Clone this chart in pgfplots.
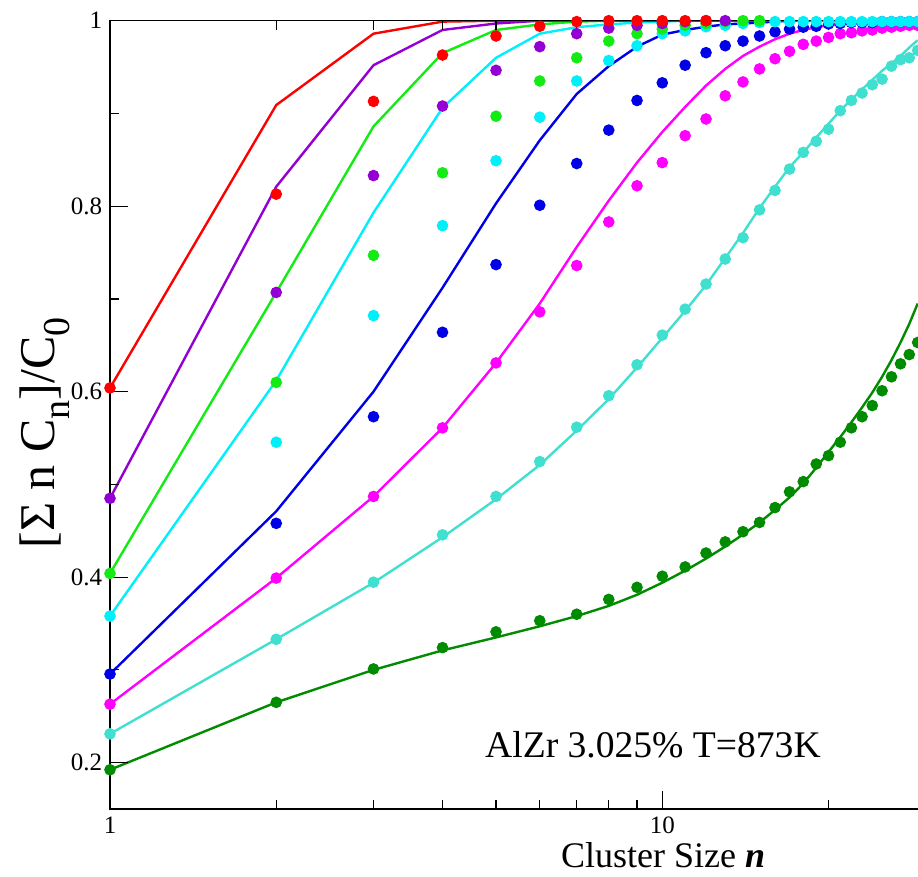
\documentclass[border=0pt]{standalone}
\usepackage{pgfplots}
\pgfplotsset{compat=1.18}
\usepackage{fontspec}
\setmainfont{Liberation Serif}
\definecolor{gRed}{RGB}{255,0,0}
\definecolor{gViolet}{RGB}{148,0,211}
\definecolor{gGreen}{RGB}{20,235,20}
\definecolor{gCyan}{RGB}{0,240,250}
\definecolor{gBlue}{RGB}{0,0,230}
\definecolor{gMagenta}{RGB}{255,0,255}
\definecolor{gTurq}{RGB}{64,224,208}
\definecolor{gGreenFour}{RGB}{0,139,0}

\pgfplotstableread{
n v
1 0.604
2 0.909
3 0.986
4 0.999
5 1.0
29 1.0
}\redline
\pgfplotstableread{
n v
1 0.604
2 0.813
3 0.913
4 0.963
5 0.9835
6 0.994
7 0.999
8 1.0
9 1.0
10 1.0
11 1.0
12 1.0
}\reddots
\pgfplotstableread{
n v
1 0.485
2 0.821
3 0.952
4 0.990
5 0.997
6 1.0
29 1.0
}\violetline
\pgfplotstableread{
n v
1 0.485
2 0.707
3 0.833
4 0.908
5 0.9465
6 0.972
7 0.986
8 0.992
9 0.995
10 0.997
11 0.999
12 1.0
13 1.0
}\violetdots
\pgfplotstableread{
n v
1 0.404
2 0.707
3 0.886
4 0.965
5 0.990
6 0.996
7 0.999
8 1.0
29 1.0
}\greenline
\pgfplotstableread{
n v
1 0.404
2 0.610
3 0.747
4 0.836
5 0.897
6 0.935
7 0.960
8 0.978
9 0.986
10 0.991
11 0.995
12 0.997
13 0.999
14 1.0
15 1.0
}\greendots
\pgfplotstableread{
n v
1 0.358
2 0.612
3 0.793
4 0.906
5 0.960
6 0.986
7 0.993
8 0.996
9 0.998
10 0.999
11 1.0
29 1.0
}\cyanline
\pgfplotstableread{
n v
1 0.358
2 0.5455
3 0.682
4 0.779
5 0.849
6 0.896
7 0.935
8 0.957
9 0.973
10 0.986
11 0.989
12 0.9935
13 0.995
14 0.997
15 0.998
16 0.999
17 0.999
18 0.999
19 0.999
20 0.999
21 0.999
22 0.999
23 0.999
24 0.999
25 0.999
26 0.999
27 0.999
28 0.999
29 0.999
}\cyandots
\pgfplotstableread{
n v
1 0.2955
2 0.471
3 0.600
4 0.712
5 0.803
6 0.871
7 0.921
8 0.951
9 0.972
10 0.985
11 0.990
12 0.9935
13 0.996
14 0.997
15 0.998
16 0.999
17 1.0
29 1.0
}\blueline
\pgfplotstableread{
n v
1 0.2955
2 0.458
3 0.573
4 0.664
5 0.737
6 0.801
7 0.846
8 0.882
9 0.914
10 0.933
11 0.952
12 0.9655
13 0.973
14 0.978
15 0.9835
16 0.988
17 0.991
18 0.993
19 0.994
20 0.9965
21 0.997
22 0.998
23 0.998
24 0.998
25 0.999
26 0.999
27 0.999
28 0.999
29 0.999
}\bluedots
\pgfplotstableread{
n v
1 0.263
2 0.399
3 0.487
4 0.561
5 0.631
6 0.695
7 0.756
8 0.806
9 0.847
10 0.880
11 0.907
12 0.930
13 0.948
14 0.962
15 0.972
16 0.980
17 0.986
18 0.990
19 0.993
20 0.995
21 0.996
22 0.997
23 0.998
24 0.998
25 0.999
26 0.999
27 0.999
28 0.999
29 0.999
}\magentaline
\pgfplotstableread{
n v
1 0.263
2 0.399
3 0.487
4 0.561
5 0.631
6 0.686
7 0.736
8 0.783
9 0.822
10 0.847
11 0.876
12 0.894
13 0.919
14 0.934
15 0.948
16 0.959
17 0.967
18 0.9745
19 0.978
20 0.982
21 0.986
22 0.987
23 0.989
24 0.990
25 0.992
26 0.993
27 0.994
28 0.995
29 0.995
}\magentadots
\pgfplotstableread{
n v
1 0.231
2 0.333
3 0.394
4 0.443
5 0.484
6 0.521
7 0.558
8 0.592
9 0.626
10 0.658
11 0.687
12 0.715
13 0.744
14 0.771
15 0.798
16 0.821
17 0.842
18 0.858
19 0.874
20 0.889
21 0.903
22 0.915
23 0.926
24 0.936
25 0.946
26 0.954
27 0.962
28 0.971
29 0.979
}\turqline
\pgfplotstableread{
n v
1 0.231
2 0.333
3 0.3946
4 0.4456
5 0.487
6 0.5246
7 0.5617
8 0.5956
9 0.629
10 0.661
11 0.689
12 0.716
13 0.743
14 0.766
15 0.796
16 0.817
17 0.840
18 0.858
19 0.870
20 0.883
21 0.903
22 0.914
23 0.922
24 0.931
25 0.937
26 0.951
27 0.958
28 0.960
29 0.968
}\turqdots
\pgfplotstableread{
n v
1 0.1923
2 0.265
3 0.300
4 0.321
5 0.335
6 0.347
7 0.358
8 0.369
9 0.381
10 0.394
11 0.407
12 0.420
13 0.433
14 0.446
15 0.459
16 0.4725
17 0.486
18 0.501
19 0.518
20 0.535
21 0.551
22 0.567
23 0.583
24 0.599
25 0.616
26 0.634
27 0.653
28 0.673
29 0.695
}\gfourline
\pgfplotstableread{
n v
1 0.1923
2 0.265
3 0.301
4 0.324
5 0.341
6 0.353
7 0.360
8 0.376
9 0.389
10 0.401
11 0.411
12 0.426
13 0.438
14 0.449
15 0.459
16 0.475
17 0.492
18 0.503
19 0.522
20 0.531
21 0.5455
22 0.561
23 0.573
24 0.585
25 0.601
26 0.616
27 0.630
28 0.640
29 0.653
}\gfourdots

\begin{document}
\begin{tikzpicture}
\useasboundingbox (0,0) rectangle (459pt,438.5pt);
\begin{axis}[
  at={(55pt,34pt)}, anchor=south west,
  scale only axis, width=407.9pt, height=394.15pt,
  xmode=log, xmin=1, xmax=30, ymin=0.15, ymax=1,
  axis on top,
  axis line style={line width=0.6pt},
  xtick={1,10}, xticklabels={1,10},
  minor xtick={2,3,4,5,6,7,8,9,20,30},
  ytick={0.2,0.4,0.6,0.8,1}, yticklabels={0.2,0.4,0.6,0.8,1},
  minor ytick={0.3,0.5,0.7,0.9},
  ytick pos=left,
  tick align=inside,
  major tick length=9pt, minor tick length=4.5pt,
  every tick/.style={black, line width=0.6pt},
  tick label style={font=\fontsize{12.5}{14}\selectfont},
  /pgf/number format/assume math mode=true,
  xlabel={Cluster Size \textbf{\textit{n}}},
  every axis x label/.style={at={(axis description cs:0.678,0)}, anchor=base, yshift=-29.4pt, font=\fontsize{18}{20}\selectfont},
  ylabel={[Σ n C\raisebox{-0.3em}{\fontsize{19}{19}\selectfont n}]/C\raisebox{-0.3em}{\fontsize{19}{19}\selectfont 0}},
  every axis y label/.style={at={(axis description cs:-0.0686,0.477)}, anchor=base, rotate=90, font=\fontsize{25}{28}\selectfont},
  line width=1.2pt,
]
% lines
\addplot[gGreenFour, no marks] table[x=n,y=v] {\gfourline};
\addplot[gTurq, no marks] table[x=n,y=v] {\turqline};
\addplot[gMagenta, no marks] table[x=n,y=v] {\magentaline};
\addplot[gBlue, no marks] table[x=n,y=v] {\blueline};
\addplot[gCyan, no marks] table[x=n,y=v] {\cyanline};
\addplot[gGreen, no marks] table[x=n,y=v] {\greenline};
\addplot[gViolet, no marks] table[x=n,y=v] {\violetline};
\addplot[gRed, no marks] table[x=n,y=v] {\redline};
% dots
\addplot[gGreenFour, only marks, mark=*, mark size=2.6pt, line width=0.6pt] table[x=n,y=v] {\gfourdots};
\addplot[gTurq, only marks, mark=*, mark size=2.6pt, line width=0.6pt] table[x=n,y=v] {\turqdots};
\addplot[gMagenta, only marks, mark=*, mark size=2.6pt, line width=0.6pt] table[x=n,y=v] {\magentadots};
\addplot[gBlue, only marks, mark=*, mark size=2.6pt, line width=0.6pt] table[x=n,y=v] {\bluedots};
\addplot[gCyan, only marks, mark=*, mark size=2.6pt, line width=0.6pt] table[x=n,y=v] {\cyandots};
\addplot[gGreen, only marks, mark=*, mark size=2.6pt, line width=0.6pt] table[x=n,y=v] {\greendots};
\addplot[gViolet, only marks, mark=*, mark size=2.6pt, line width=0.6pt] table[x=n,y=v] {\violetdots};
\addplot[gRed, only marks, mark=*, mark size=2.6pt, line width=0.6pt] table[x=n,y=v] {\reddots};
\node[anchor=base west, inner sep=0pt, font=\fontsize{18.8}{20}\selectfont] at (axis cs:4.755,0.206) {AlZr 3.025\% T=873K};
\end{axis}
\end{tikzpicture}
\end{document}
